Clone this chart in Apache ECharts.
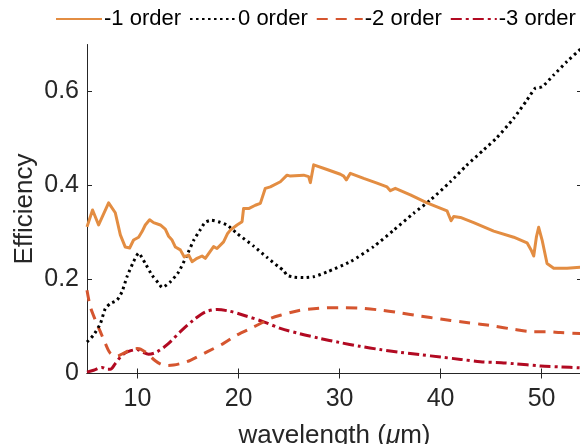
<!DOCTYPE html>
<html>
<head>
<meta charset="utf-8">
<script src="https://cdn.jsdelivr.net/npm/echarts@6/dist/echarts.min.js"></script>
<style>html,body{margin:0;padding:0;background:#fff}#c{width:580px;height:444px}</style>
</head>
<body>
<div id="c"></div>
<script>
// ---- data ----
const seriesNames = ['-1 order', '0 order', '-2 order', '-3 order'];
const xTickValues = [10, 20, 30, 40, 50];
const yTickValues = [0, 0.2, 0.4, 0.6];

const m1Wl = [5.0,5.55,6.15,7.14,7.8,8.3,8.79,9.22,9.61,10.11,10.45,10.77,11.2,11.59,12.26,12.75,13.08,13.42,13.75,14.24,14.63,15.06,15.4,15.89,16.39,16.71,17.53,17.87,18.52,18.92,19.19,19.85,20.35,20.5,21.0,21.66,22.16,22.65,23.15,24.14,24.8,25.13,26.45,26.94,27.11,27.44,28.76,30.08,30.41,30.67,31.07,32.39,33.71,34.7,35.03,35.52,37.01,38.66,40.64,40.8,41.04,41.3,41.96,43.28,45.26,47.24,48.56,48.96,49.22,49.49,49.71,50.05,50.54,51.2,52.52,53.84];
const m1Eff = [0.312,0.348,0.316,0.363,0.342,0.295,0.269,0.267,0.284,0.29,0.302,0.316,0.327,0.321,0.316,0.307,0.292,0.284,0.269,0.263,0.248,0.252,0.238,0.245,0.25,0.245,0.27,0.266,0.28,0.298,0.305,0.316,0.323,0.351,0.351,0.358,0.362,0.394,0.397,0.408,0.422,0.42,0.422,0.419,0.406,0.444,0.434,0.424,0.42,0.412,0.426,0.415,0.405,0.397,0.389,0.394,0.38,0.363,0.346,0.342,0.325,0.334,0.332,0.321,0.303,0.29,0.278,0.263,0.25,0.291,0.311,0.284,0.234,0.224,0.224,0.226];

const z0Wl = [5.0,5.65,6.32,6.81,7.31,7.97,8.47,8.96,9.61,10.11,10.77,11.44,12.09,12.45,13.25,14.07,14.9,15.6,16.22,16.71,17.3,18.0,18.86,19.85,21.5,22.82,23.97,24.47,24.8,25.5,26.45,27.44,28.76,31.07,33.38,35.36,37.34,38.99,40.97,42.54,44.27,45.5,47.24,48.56,49.38,50.05,51.2,52.52,53.84];
const z0Eff = [0.067,0.082,0.106,0.138,0.149,0.156,0.174,0.206,0.238,0.256,0.234,0.209,0.192,0.183,0.195,0.216,0.252,0.285,0.306,0.322,0.326,0.323,0.316,0.298,0.271,0.247,0.227,0.219,0.209,0.205,0.204,0.206,0.216,0.238,0.27,0.305,0.341,0.369,0.408,0.442,0.476,0.5,0.543,0.582,0.607,0.61,0.635,0.664,0.69];

const m2Wl = [5.0,5.33,5.82,6.32,6.81,7.31,7.97,8.6,9.29,9.95,10.3,10.94,11.76,12.4,13.0,13.57,14.4,15.23,16.88,18.52,19.85,21.5,23.15,24.14,26,28,30,32,34,36,38,40,42,43.94,45.26,47.24,49.06,50.54,51.86,53.84];
const m2Eff = [0.177,0.142,0.114,0.089,0.064,0.043,0.037,0.043,0.05,0.053,0.052,0.043,0.027,0.019,0.017,0.018,0.022,0.028,0.046,0.064,0.082,0.099,0.117,0.124,0.134,0.139,0.14,0.139,0.135,0.129,0.122,0.116,0.11,0.105,0.101,0.094,0.089,0.089,0.087,0.085];

const m3Wl = [5.0,5.65,6.49,7.0,7.31,7.8,8.47,9.12,9.95,10.45,11.1,11.93,13.08,14.24,15.55,16.71,17.87,19.02,20.5,22.49,24.14,26,28,30,32,34,36,38,40,42,43.94,46,47.24,49.9,52,53.84];
const m3Eff = [0.003,0.007,0.013,0.009,0.009,0.021,0.039,0.047,0.051,0.046,0.041,0.046,0.064,0.089,0.114,0.131,0.136,0.133,0.124,0.11,0.096,0.085,0.075,0.066,0.058,0.051,0.045,0.04,0.035,0.03,0.025,0.023,0.021,0.016,0.014,0.012];

// ---- chart ----
const pair = (xs, ys) => xs.map((x, i) => [x, ys[i]]);
const FONT = 'Liberation Sans, Arial, Helvetica, sans-serif';
const AXC = '#262626';
const chart = echarts.init(document.getElementById('c'), null, {renderer: 'canvas'});

const styles = [
  {color: '#E38D42', width: 3, type: 'solid'},
  {color: '#000000', width: 3, type: [2.5, 3.5]},
  {color: '#D5552F', width: 3, type: [11, 8]},
  {color: '#B20A22', width: 3, type: [11, 4, 3, 4]}
];
const datas = [pair(m1Wl, m1Eff), pair(z0Wl, z0Eff), pair(m2Wl, m2Eff), pair(m3Wl, m3Eff)];
const smooths = [false, 0.2, 0.3, 0.3];

const tickStyle = {show: true, inside: true, length: 5, lineStyle: {color: AXC, width: 1}};

chart.setOption({
  animation: false,
  backgroundColor: '#fff',
  textStyle: {fontFamily: FONT},
  legend: {
    top: 3, left: 50, width: 570, orient: 'horizontal',
    itemWidth: 46, itemHeight: 14, itemGap: 8,
    itemStyle: {opacity: 0, borderWidth: 0},
    textStyle: {fontSize: 22, color: '#000', fontFamily: FONT, padding: [0, 0, 0, -3]},
    data: seriesNames
  },
  grid: {left: 87, top: 44.5, width: 495, height: 329, containLabel: false, outerBoundsMode: 'none'},
  xAxis: [
    {
      type: 'value', min: 5, max: 54, position: 'bottom',
      name: 'wavelength ({i|μ}m)', nameLocation: 'middle', nameGap: 49, nameMoveOverlap: false,
      nameTextStyle: {fontSize: 26, color: '#262626', fontFamily: FONT,
        rich: {i: {fontSize: 26, fontStyle: 'italic', color: '#262626', fontFamily: FONT}}},
      axisLine: {show: true, lineStyle: {color: AXC, width: 1}},
      axisTick: Object.assign({customValues: xTickValues}, tickStyle),
      axisLabel: {customValues: xTickValues, fontSize: 25, color: '#262626', margin: 13, fontFamily: FONT},
      splitLine: {show: false}
    },
    {
      type: 'value', min: 5, max: 54, position: 'top',
      axisLine: {show: true, lineStyle: {color: AXC, width: 1}},
      axisTick: Object.assign({customValues: xTickValues}, tickStyle),
      axisLabel: {show: false},
      splitLine: {show: false}
    }
  ],
  yAxis: [
    {
      type: 'value', min: 0, max: 0.7, position: 'left',
      name: 'Efficiency', nameLocation: 'middle', nameGap: 49, nameMoveOverlap: false,
      nameTextStyle: {fontSize: 26, color: '#262626', fontFamily: FONT},
      axisLine: {show: true, lineStyle: {color: AXC, width: 1}},
      axisTick: Object.assign({customValues: yTickValues}, tickStyle),
      axisLabel: {customValues: yTickValues, fontSize: 25, color: '#262626', margin: 8, fontFamily: FONT},
      splitLine: {show: false}
    },
    {
      type: 'value', min: 0, max: 0.7, position: 'right',
      axisLine: {show: true, lineStyle: {color: AXC, width: 1}},
      axisTick: Object.assign({customValues: yTickValues}, tickStyle),
      axisLabel: {show: false},
      splitLine: {show: false}
    }
  ],
  series: seriesNames.map((n, i) => ({
    name: n, type: 'line', xAxisIndex: 0, yAxisIndex: 0,
    data: datas[i], showSymbol: false, symbol: 'none', smooth: smooths[i],
    z: 10 - i,
    lineStyle: {color: styles[i].color, width: styles[i].width, type: styles[i].type, cap: 'butt', join: 'round'},
    itemStyle: {color: styles[i].color}
  }))
});
</script>
</body>
</html>
